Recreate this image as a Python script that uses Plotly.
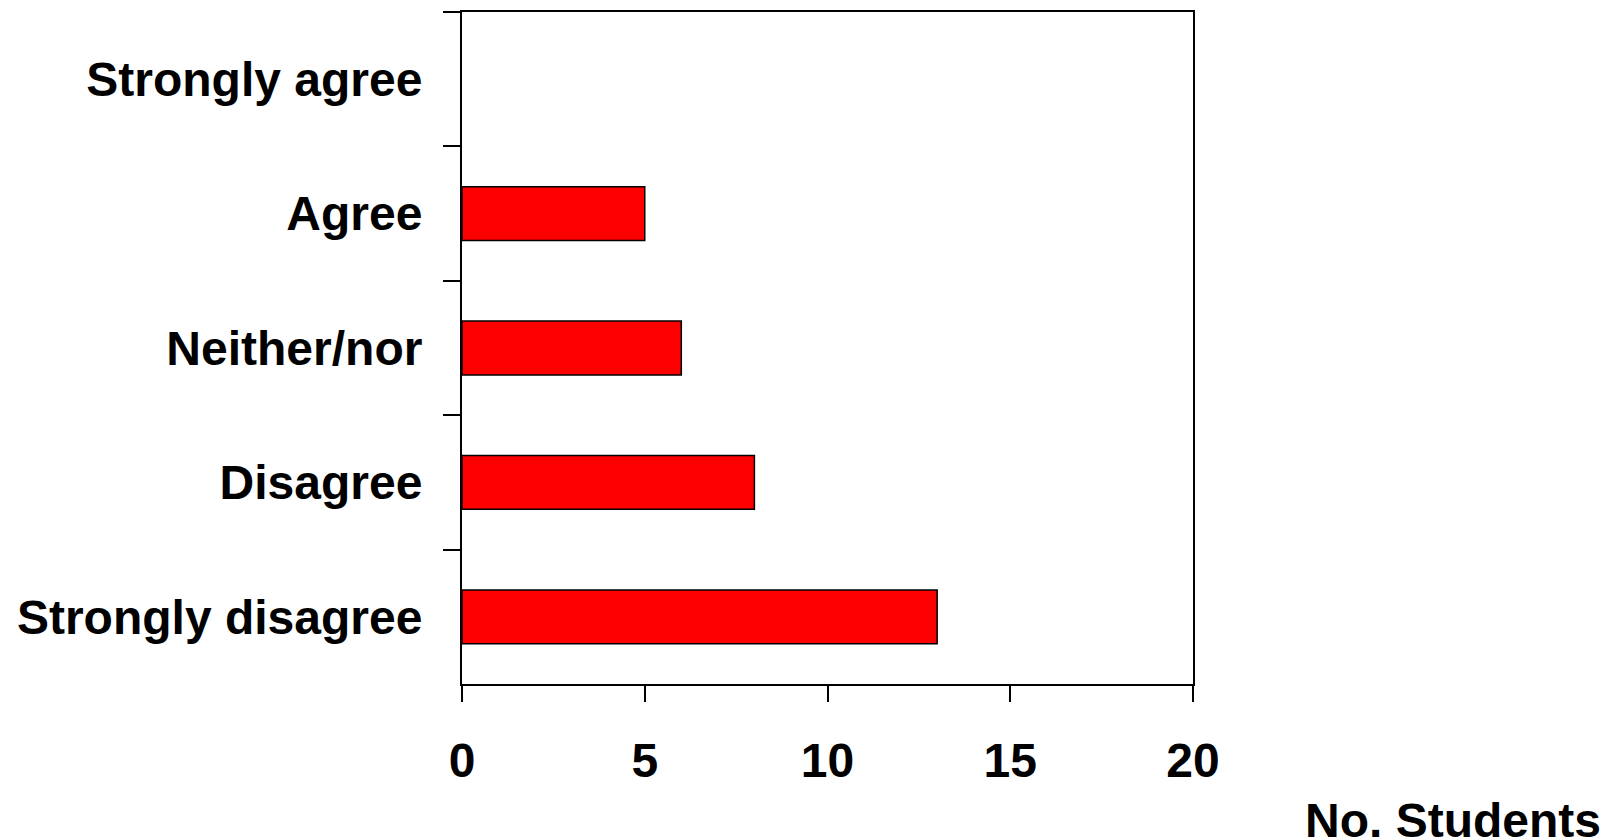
import plotly.graph_objects as go

categories = ["Strongly agree", "Agree", "Neither/nor", "Disagree", "Strongly disagree"]
students = [0, 5, 6, 8, 13]
x_ticks = [0, 5, 10, 15, 20]

FONT = "Liberation Sans, Arial, sans-serif"

fig = go.Figure()
fig.add_trace(go.Bar(
    y=categories, x=students, orientation="h", width=0.4,
    marker=dict(color="#FF0000",
                line=dict(color="black", width=[1.5 if v else 0 for v in students])),
))

W, H = 1606, 832
L, R, T, B = 454, 421, 2, 156
fig.update_layout(
    width=W, height=H,
    margin=dict(l=L, r=R, t=T, b=B, pad=0),
    paper_bgcolor="white", plot_bgcolor="white",
    showlegend=False,
    font=dict(family=FONT, size=48, color="black"),
)
fig.update_xaxes(
    range=[0, 20], tickvals=x_ticks, ticktext=[str(v) for v in x_ticks],
    showgrid=False, zeroline=False,
    showline=True, linecolor="black", linewidth=2, mirror=True,
    ticks="outside", ticklen=16, tickwidth=2, tickcolor="black",
    ticklabelstandoff=17,
    tickfont=dict(family=FONT, size=48, color="black", weight="bold"),
)
fig.update_yaxes(
    type="category", categoryorder="array", categoryarray=categories,
    autorange="reversed",
    showgrid=False, zeroline=False,
    showline=True, linecolor="black", linewidth=2, mirror=True,
    ticks="outside", ticklen=17, tickwidth=2, tickcolor="black",
    tickson="boundaries", ticklabelstandoff=28,
    tickfont=dict(family=FONT, size=48, color="black", weight="bold"),
)
plot_w = W - L - R
plot_h = H - T - B
fig.add_annotation(
    text="<b>No. Students</b>", xref="paper", yref="paper",
    x=(1453 - 462) / plot_w, y=-(821 - 684) / plot_h,
    xanchor="center", yanchor="middle", showarrow=False,
    font=dict(family=FONT, size=48, color="black"),
)

fig.write_html("out.html")
